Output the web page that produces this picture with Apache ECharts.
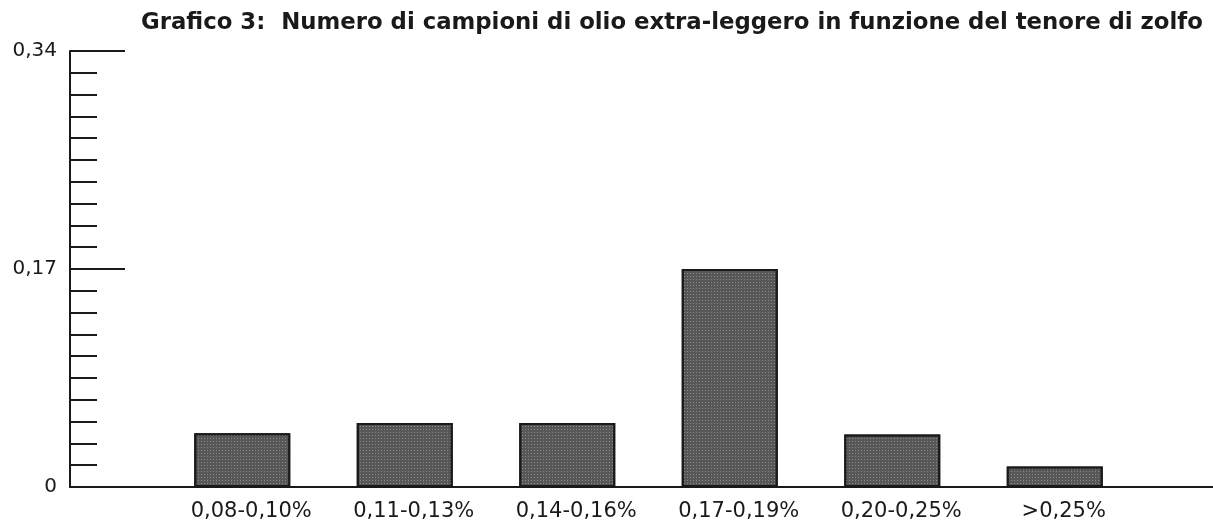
<!DOCTYPE html>
<html>
<head>
<meta charset="utf-8">
<script src="https://cdn.jsdelivr.net/npm/echarts@6/dist/echarts.min.js"></script>
<style>
  html, body { margin: 0; padding: 0; background: #fff; }
  #chart { width: 1213px; height: 527px; }
</style>
</head>
<body>
<div id="chart"></div>
<script>
// dati
const titleText = 'Grafico 3:  Numero di campioni di olio extra-leggero in funzione del tenore di zolfo';
const categories = ['0,08-0,10%', '0,11-0,13%', '0,14-0,16%', '0,17-0,19%', '0,20-0,25%', '>0,25%'];
const values = [0.042, 0.05, 0.05, 0.17, 0.041, 0.016];
const yTicks = [0, 0.17, 0.34];

const chart = echarts.init(document.getElementById('chart'));

const ink = '#1a1a1a';

const option = {
  backgroundColor: '#fff',
  animation: false,
  title: {
    text: titleText,
    left: 136,
    top: 7,
    textStyle: {
      fontFamily: 'DejaVu Sans',
      fontWeight: 'bold',
      fontSize: 22.8,
      color: ink
    }
  },
  grid: [
    // griglia delle barre
    { left: 161, width: 975, top: 51, bottom: 40 },
    // griglia degli assi (linea asse y a sinistra, asse x fino al bordo)
    { left: 70, right: 0, top: 51, bottom: 40 }
  ],
  xAxis: [
    {
      type: 'category',
      gridIndex: 0,
      data: categories,
      axisLine: { show: false },
      axisTick: { show: false },
      axisLabel: {
        margin: 14,
        padding: [0, 0, 0, 18],
        fontFamily: 'DejaVu Sans',
        fontSize: 21,
        color: ink
      }
    },
    {
      type: 'value',
      gridIndex: 1,
      min: 0,
      max: 1,
      axisLine: { show: true, lineStyle: { color: ink, width: 2 } },
      axisTick: { show: false },
      axisLabel: { show: false },
      splitLine: { show: false }
    }
  ],
  yAxis: [
    {
      type: 'value',
      gridIndex: 0,
      min: yTicks[0],
      max: yTicks[2],
      show: false
    },
    {
      type: 'value',
      gridIndex: 1,
      min: yTicks[0],
      max: yTicks[2],
      interval: yTicks[1] - yTicks[0],
      axisLine: { show: true, lineStyle: { color: ink, width: 2 } },
      axisTick: { show: true, inside: true, length: 55, lineStyle: { color: ink, width: 2 } },
      minorTick: { show: true, splitNumber: 10, length: 27, lineStyle: { color: ink, width: 2 } },
      splitLine: { show: false },
      axisLabel: {
        margin: 13,
        fontFamily: 'DejaVu Sans',
        fontSize: 20,
        color: ink,
        formatter: v => String(+v.toFixed(2)).replace('.', ',')
      }
    }
  ],
  series: [
    {
      type: 'bar',
      xAxisIndex: 0,
      yAxisIndex: 0,
      data: values,
      barWidth: 96,
      itemStyle: {
        color: '#575757',
        borderColor: '#1a1a1a',
        borderWidth: 2,
        decal: {
          symbol: 'rect',
          symbolSize: 1,
          dashArrayX: [1, 2],
          dashArrayY: [1, 2],
          color: 'rgba(190,190,190,0.5)'
        }
      }
    }
  ]
};

chart.setOption(option);
</script>
</body>
</html>
